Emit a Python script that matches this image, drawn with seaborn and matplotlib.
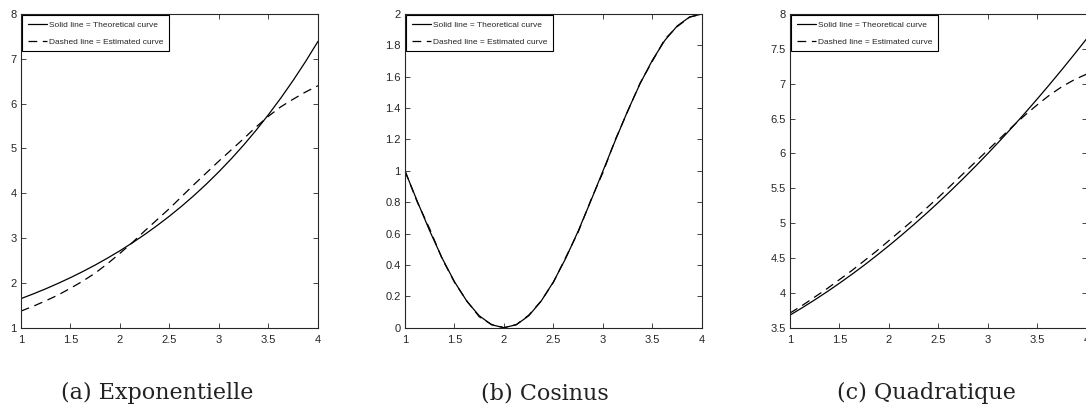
import numpy as np
import pandas as pd
import matplotlib
matplotlib.use("Agg")
import matplotlib.pyplot as plt
import seaborn as sns

# ---------------- data ----------------
x_vals = [1.0, 1.125, 1.25, 1.375, 1.5, 1.625, 1.75, 1.875, 2.0, 2.125, 2.25, 2.375, 2.5,
          2.625, 2.75, 2.875, 3.0, 3.125, 3.25, 3.375, 3.5, 3.625, 3.75, 3.875, 4.0]

exp_theoretical = [1.649, 1.755, 1.868, 1.989, 2.117, 2.254, 2.399, 2.554, 2.718, 2.894, 3.080,
                   3.279, 3.490, 3.715, 3.955, 4.210, 4.482, 4.771, 5.078, 5.406, 5.755, 6.126,
                   6.521, 6.941, 7.389]
exp_estimated = [1.37, 1.48, 1.60, 1.73, 1.88, 2.04, 2.22, 2.43, 2.66, 2.90, 3.16, 3.41, 3.66,
                 3.93, 4.20, 4.46, 4.72, 4.97, 5.22, 5.48, 5.72, 5.93, 6.10, 6.26, 6.40]

cos_theoretical = [1.000, 0.805, 0.617, 0.444, 0.293, 0.169, 0.076, 0.019, 0.000, 0.019, 0.076,
                   0.169, 0.293, 0.444, 0.617, 0.805, 1.000, 1.195, 1.383, 1.556, 1.707, 1.832,
                   1.924, 1.981, 2.000]
cos_estimated = [1.00, 0.80, 0.63, 0.44, 0.29, 0.17, 0.07, 0.02, 0.00, 0.02, 0.08, 0.17, 0.29,
                 0.45, 0.61, 0.81, 0.99, 1.20, 1.38, 1.56, 1.70, 1.84, 1.92, 1.98, 2.00]

quad_theoretical = [3.680, 3.787, 3.899, 4.016, 4.138, 4.265, 4.397, 4.535, 4.677, 4.825, 4.978,
                    5.135, 5.298, 5.466, 5.639, 5.817, 6.001, 6.189, 6.383, 6.581, 6.785, 6.994,
                    7.208, 7.427, 7.651]
quad_estimated = [3.71, 3.82, 3.94, 4.06, 4.19, 4.32, 4.46, 4.60, 4.75, 4.90, 5.05, 5.21, 5.37,
                  5.54, 5.71, 5.88, 6.05, 6.22, 6.39, 6.55, 6.70, 6.84, 6.96, 7.06, 7.14]

x_ticks = [1, 1.5, 2, 2.5, 3, 3.5, 4]
x_ticklabels = ["1", "1.5", "2", "2.5", "3", "3.5", "4"]

yticks_a = [1, 2, 3, 4, 5, 6, 7, 8]
ylabels_a = ["1", "2", "3", "4", "5", "6", "7", "8"]
yticks_b = [0, 0.2, 0.4, 0.6, 0.8, 1.0, 1.2, 1.4, 1.6, 1.8, 2.0]
ylabels_b = ["0", "0.2", "0.4", "0.6", "0.8", "1", "1.2", "1.4", "1.6", "1.8", "2"]
yticks_c = [3.5, 4, 4.5, 5, 5.5, 6, 6.5, 7, 7.5, 8]
ylabels_c = ["3.5", "4", "4.5", "5", "5.5", "6", "6.5", "7", "7.5", "8"]

captions = ["(a) Exponentielle", "(b) Cosinus", "(c) Quadratique"]
legend_labels = ["Solid line = Theoretical curve", "Dashed line = Estimated curve"]

# ---------------- style ----------------
sns.set_style("ticks")
plt.rcParams['font.family'] = ['Liberation Sans Narrow', 'Liberation Sans', 'DejaVu Sans']

fig = plt.figure(figsize=(10.86, 4.12), dpi=100)

panels = [
    (0.0193, exp_theoretical, exp_estimated, (1, 8), yticks_a, ylabels_a),
    (0.3729, cos_theoretical, cos_estimated, (0, 2), yticks_b, ylabels_b),
    (0.7274, quad_theoretical, quad_estimated, (3.5, 8), yticks_c, ylabels_c),
]
caption_x = [157.5 / 1086, 545 / 1086, 926 / 1086]

for i, (left, theo, est, ylim, yt, yl) in enumerate(panels):
    ax = fig.add_axes([left, 0.2046, 0.2735, 0.7614])
    df = pd.DataFrame({"x": x_vals, "theo": theo, "est": est})
    sns.lineplot(data=df, x="x", y="theo", ax=ax, color="black", lw=0.9,
                 label=legend_labels[0])
    sns.lineplot(data=df, x="x", y="est", ax=ax, color="black", lw=0.9,
                 linestyle=(0, (7, 4.5)), label=legend_labels[1])
    ax.set_xlim(1, 4)
    ax.set_ylim(*ylim)
    ax.set_xticks(x_ticks)
    ax.set_xticklabels(x_ticklabels)
    ax.set_yticks(yt)
    ax.set_yticklabels(yl)
    ax.set_xlabel("")
    ax.set_ylabel("")
    ax.tick_params(direction="in", length=3.5, width=0.6, labelsize=8,
                   top=True, right=True, colors="#262626", labelcolor="#262626")
    ax.tick_params(axis="x", pad=5)
    ax.tick_params(axis="y", pad=3)
    for s in ax.spines.values():
        s.set_visible(True)
        s.set_linewidth(0.8)
        s.set_color("#262626")
    leg = ax.legend(loc="upper left", fontsize=6, frameon=True, fancybox=False,
                    edgecolor="black", framealpha=1, handlelength=2.3,
                    borderpad=0.65, labelspacing=1.1, handletextpad=0.3,
                    borderaxespad=0.15)
    leg.get_frame().set_linewidth(0.8)
    fig.text(caption_x[i], 0.046, captions[i], ha="center", va="center",
             fontsize=16, family=["DejaVu Serif"], color="#222222")

fig.savefig("out.png", dpi=100)
